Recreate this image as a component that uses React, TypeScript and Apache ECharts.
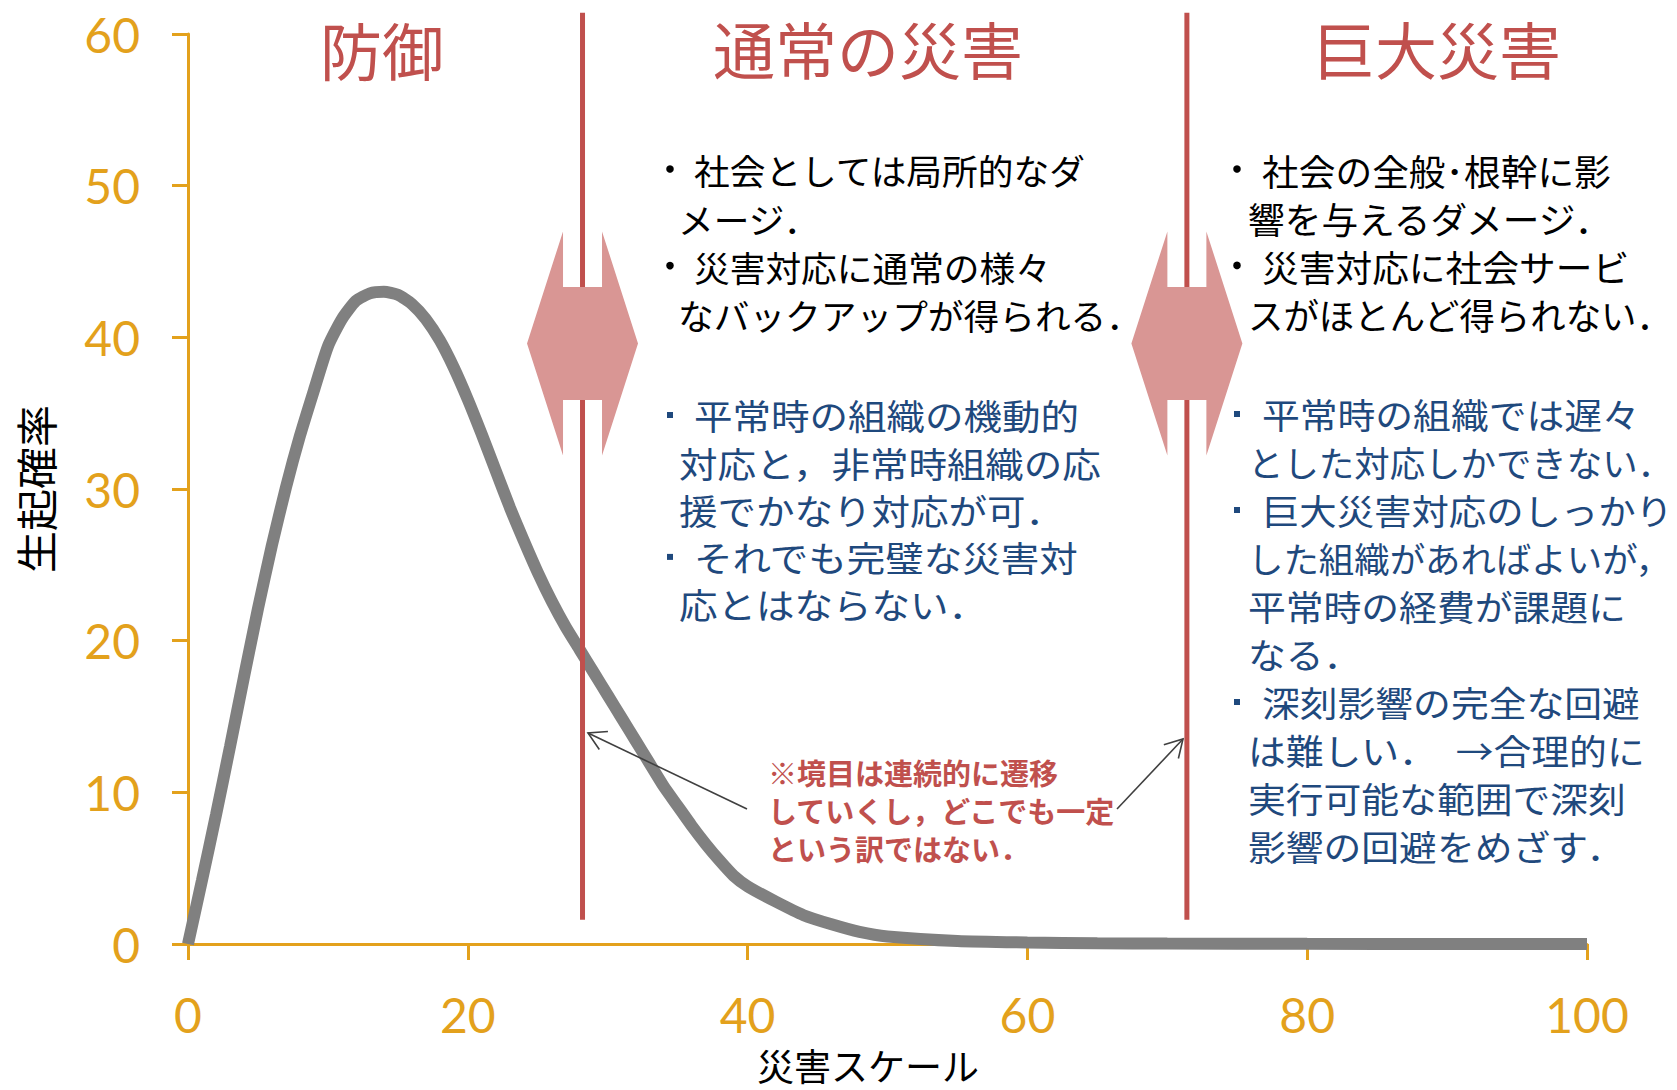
import React, { useEffect, useRef } from "react";
import * as echarts from "echarts";

// ---- data ----
const disasterScale = [
  0, 1, 2, 3, 4, 5, 6, 7, 8, 9, 10, 11, 12, 13, 14, 15, 16, 17, 18, 19, 20,
  21, 22, 23, 24, 25, 26, 27, 28, 29, 30, 31, 32, 33, 34, 35, 36, 37, 38, 39,
  40, 42, 44, 46, 48, 50, 55, 60, 65, 70, 80, 90, 100,
];
const occurrenceProb = [
  0, 4.2, 8.5, 13.0, 17.6, 22.1, 26.3, 30.1, 33.5, 36.5, 39.4, 41.2, 42.4,
  42.9, 43.0, 42.8, 42.2, 41.2, 39.8, 38.0, 35.9, 33.6, 31.2, 28.8, 26.6, 24.5,
  22.6, 20.9, 19.4, 17.9, 16.4, 14.9, 13.4, 11.9, 10.4, 9.1, 7.8, 6.6, 5.5,
  4.5, 3.8, 2.8, 1.9, 1.3, 0.8, 0.5, 0.2, 0.1, 0.05, 0.03, 0.01, 0.005, 0,
];
const boundaryScale = [28.2, 71.4];
const boundaryTop = 61.4;
const boundaryBottom = 1.6;
const arrowLevel = 39.6;

const xAxisName = "災害スケール";
const yAxisName = "生起確率";
const regionTitles = ["防御", "通常の災害", "巨大災害"];

const normalBlack = [
  ["社会としては局所的なダ", "メージ．"],
  ["災害対応に通常の様々", "なバックアップが得られる．"],
];
const normalBlue = [
  ["平常時の組織の機動的", "対応と，非常時組織の応", "援でかなり対応が可．"],
  ["それでも完璧な災害対", "応とはならない．"],
];
const hugeBlack = [
  ["社会の全般･根幹に影", "響を与えるダメージ．"],
  ["災害対応に社会サービ", "スがほとんど得られない．"],
];
const hugeBlue = [
  ["平常時の組織では遅々", "とした対応しかできない．"],
  ["巨大災害対応のしっかり", "した組織があればよいが，", "平常時の経費が課題に", "なる．"],
  ["深刻影響の完全な回避", "は難しい．　→合理的に", "実行可能な範囲で深刻", "影響の回避をめざす．"],
];
const boundaryNote = [
  "※境目は連続的に遷移",
  "していくし，どこでも一定",
  "という訳ではない．",
];

// ---- styles ----
const AXIS_COLOR = "#E3A11C";
const RED = "#C0504D";
const PINK = "#D99694";
const BLUE = "#1F497D";
const CJK = "'Noto Sans CJK JP', sans-serif";
const RIGHT_LIMIT = 1673;

function emCount(s: string) {
  let n = 0;
  for (const ch of s) {
    n += /[\u0020-\u007e\uff61-\uff9f\u2192]/.test(ch) ? 0.5 : 1;
  }
  return n;
}

function noteBlock(
  paras: string[][],
  o: {
    bulletX: number;
    textX: number;
    contX: number;
    startY: number;
    lineH: number;
    fontSize: number;
    scale: number;
    color: string;
    square: boolean;
  }
) {
  const els: any[] = [];
  let i = 0;
  paras.forEach((lines) => {
    lines.forEach((line, j) => {
      const y = o.startY + i * o.lineH;
      const x = j === 0 ? o.textX : o.contX;
      const w = emCount(line) * o.fontSize;
      const s = Math.min(o.scale, (RIGHT_LIMIT - x) / w);
      if (j === 0) {
        if (o.square) {
          els.push({
            type: "rect",
            z: 100,
            shape: { x: o.bulletX - 3, y: y - 3, width: 6, height: 6 },
            style: { fill: o.color },
          });
        } else {
          els.push({
            type: "circle",
            z: 100,
            shape: { cx: o.bulletX, cy: y - 1, r: 3.8 },
            style: { fill: "#000" },
          });
        }
      }
      els.push({
        type: "text",
        z: 100,
        x,
        y,
        scaleX: s,
        style: {
          text: line,
          x: 0,
          y: 0,
          fill: o.color,
          font: `normal ${o.fontSize}px ${CJK}`,
          lineHeight: o.fontSize + 4,
          textAlign: "left",
          textVerticalAlign: "middle",
        },
      });
      i++;
    });
  });
  return els;
}

function arrowLine(x1: number, y1: number, x2: number, y2: number) {
  const dx = x2 - x1;
  const dy = y2 - y1;
  const len = Math.sqrt(dx * dx + dy * dy);
  const ux = -dx / len;
  const uy = -dy / len;
  const L = 20;
  const a = Math.PI / 6;
  const w1 = [
    x2 + L * (ux * Math.cos(a) - uy * Math.sin(a)),
    y2 + L * (ux * Math.sin(a) + uy * Math.cos(a)),
  ];
  const w2 = [
    x2 + L * (ux * Math.cos(-a) - uy * Math.sin(-a)),
    y2 + L * (ux * Math.sin(-a) + uy * Math.cos(-a)),
  ];
  return [
    {
      type: "line",
      z: 100,
      shape: { x1, y1, x2, y2 },
      style: { stroke: "#404040", lineWidth: 1.6 },
    },
    {
      type: "polyline",
      z: 100,
      shape: { points: [w1, [x2, y2], w2] },
      style: { stroke: "#404040", lineWidth: 1.6, fill: null },
    },
  ];
}

function buildOption() {
  const titlePos = [
    [382, 49],
    [868, 48],
    [1437, 48],
  ];
  const graphics: any[] = [];
  regionTitles.forEach((t, k) => {
    graphics.push({
      type: "text",
      z: 100,
      style: {
        text: t,
        x: titlePos[k][0],
        y: titlePos[k][1],
        fill: RED,
        font: `normal 62px ${CJK}`,
        lineHeight: 66,
        textAlign: "center",
        textVerticalAlign: "middle",
      },
    });
  });
  graphics.push(
    ...noteBlock(normalBlack, {
      bulletX: 670, textX: 694, contX: 678, startY: 170, lineH: 48.3,
      fontSize: 35, scale: 1.02, color: "#000", square: false,
    }),
    ...noteBlock(normalBlue, {
      bulletX: 670, textX: 694, contX: 679, startY: 415, lineH: 47.3,
      fontSize: 35, scale: 1.1, color: BLUE, square: true,
    }),
    ...noteBlock(hugeBlack, {
      bulletX: 1237, textX: 1262, contX: 1248, startY: 170, lineH: 48.2,
      fontSize: 36, scale: 1.02, color: "#000", square: false,
    }),
    ...noteBlock(hugeBlue, {
      bulletX: 1237, textX: 1262, contX: 1248, startY: 414, lineH: 48,
      fontSize: 35, scale: 1.08, color: BLUE, square: true,
    })
  );
  boundaryNote.forEach((t, k) => {
    graphics.push({
      type: "text",
      z: 100,
      style: {
        text: t,
        x: 768,
        y: 772 + k * 38,
        fill: RED,
        font: `bold 29px ${CJK}`,
        lineHeight: 32,
        textAlign: "left",
        textVerticalAlign: "middle",
      },
    });
  });
  graphics.push(...arrowLine(747, 809, 588, 733), ...arrowLine(1117, 809, 1183, 739));

  return {
    animation: false,
    backgroundColor: "#fff",
    grid: { left: 188, top: 34, right: 90, bottom: 146, containLabel: false },
    xAxis: {
      type: "value",
      min: 0,
      max: 100,
      interval: 20,
      name: xAxisName,
      nameLocation: "middle",
      nameGap: 121,
      nameMoveOverlap: false,
      nameTextStyle: {
        color: "#000",
        fontSize: 37,
        fontFamily: CJK,
        lineHeight: 36,
        verticalAlign: "middle",
        padding: [0, 39, 0, 0],
      },
      axisLine: { show: true, lineStyle: { color: AXIS_COLOR, width: 3 } },
      axisTick: { show: true, length: 16, lineStyle: { color: AXIS_COLOR, width: 3 } },
      axisLabel: { color: AXIS_COLOR, fontSize: 48, fontFamily: "Lato", margin: 46 },
      splitLine: { show: false },
    },
    yAxis: {
      type: "value",
      min: 0,
      max: 60,
      interval: 10,
      name: yAxisName,
      nameLocation: "middle",
      nameRotate: 90,
      nameGap: 132,
      nameMoveOverlap: false,
      nameTextStyle: { color: "#000", fontSize: 42, fontFamily: CJK, lineHeight: 44 },
      axisLine: { show: true, lineStyle: { color: AXIS_COLOR, width: 3 } },
      axisTick: { show: true, length: 16, lineStyle: { color: AXIS_COLOR, width: 3 } },
      axisLabel: { color: AXIS_COLOR, fontSize: 48, fontFamily: "Lato", margin: 48 },
      splitLine: { show: false },
    },
    series: [
      {
        type: "line",
        data: disasterScale.map((x, i) => [x, occurrenceProb[i]]),
        showSymbol: false,
        symbol: "none",
        smooth: 0.2,
        lineStyle: { color: "#808080", width: 12 },
        z: 3,
      },
      {
        type: "custom",
        clip: false,
        z: 5,
        data: boundaryScale.map((x) => [x, arrowLevel]),
        renderItem: (params: any, api: any) => {
          const x = api.value(0);
          const top = api.coord([x, boundaryTop]);
          const bot = api.coord([x, boundaryBottom]);
          const c = api.coord([x, api.value(1)]);
          const cx = c[0];
          const cy = c[1];
          const tip = 55.5;
          const shaft = 19.5;
          const headH = 112;
          const shaftH = 56.5;
          return {
            type: "group",
            children: [
              {
                type: "line",
                shape: { x1: top[0], y1: top[1], x2: bot[0], y2: bot[1] },
                style: { stroke: RED, lineWidth: 5 },
              },
              {
                type: "polygon",
                shape: {
                  points: [
                    [cx - tip, cy],
                    [cx - shaft, cy - headH],
                    [cx - shaft, cy - shaftH],
                    [cx + shaft, cy - shaftH],
                    [cx + shaft, cy - headH],
                    [cx + tip, cy],
                    [cx + shaft, cy + headH],
                    [cx + shaft, cy + shaftH],
                    [cx - shaft, cy + shaftH],
                    [cx - shaft, cy + headH],
                  ],
                },
                style: { fill: PINK },
              },
            ],
          };
        },
      },
    ],
    graphic: graphics,
  };
}

export default function App() {
  const ref = useRef<HTMLDivElement>(null);
  useEffect(() => {
    document.body.style.margin = "0";
    const chart = echarts.init(ref.current!, null, { renderer: "svg" });
    chart.setOption(buildOption() as any);
    return () => chart.dispose();
  }, []);
  return <div ref={ref} style={{ width: 1677, height: 1090 }} />;
}
